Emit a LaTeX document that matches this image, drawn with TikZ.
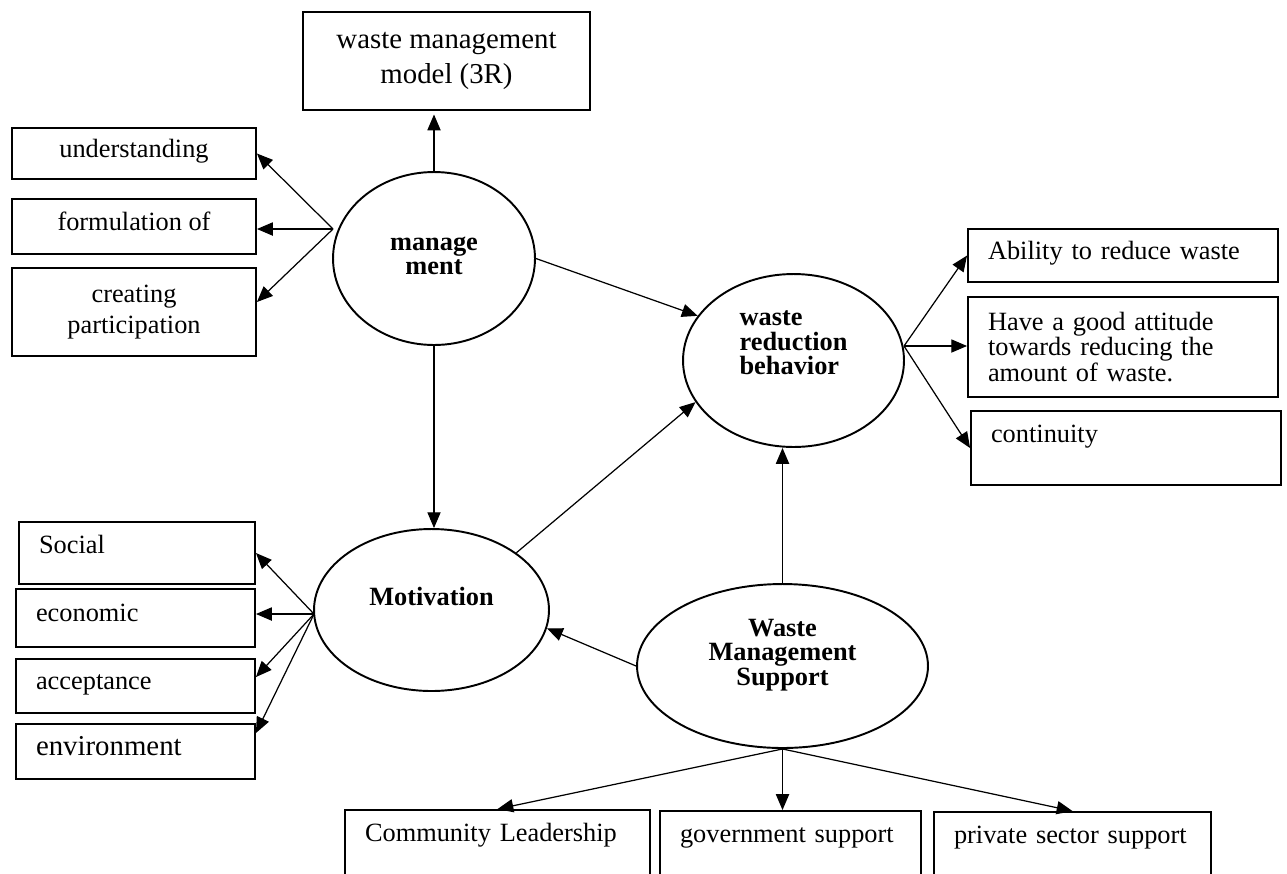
\documentclass[tikz,border=0pt]{standalone}
\usepackage{fontspec}
\setmainfont{Liberation Serif}
\usetikzlibrary{positioning, arrows.meta, shapes.geometric}
\tikzset{
    box/.style={draw, rectangle, line width=1.1pt, inner sep=0pt, align=center, font=\fontsize{15}{17.6}\selectfont},
    lbox/.style={box, align=left, inner xsep=0.4cm},
    oneline/.style={text height=0.7em, text depth=0.25em},
    topline/.style={text height=0.7em, text depth=1.3em},
    latent/.style={ellipse, draw, line width=1.1pt, inner sep=0pt},
    lattext/.style={font=\fontsize{15}{14}\selectfont\bfseries, align=center},
    arrow/.style={-{Triangle[length=9pt, width=7.5pt]}, line width=0.7pt}
}
\begin{document}
\begin{tikzpicture}[x=0.02cm, y=-0.02cm]
\useasboundingbox (0,0) rectangle (1287,873);

% management and its indicators
\node[box, minimum width=5.74cm, minimum height=1.96cm, font=\fontsize{16.4}{20.4}\selectfont] (model) at (446.5,61) {waste management\\model (3R)};
\node[box, oneline, minimum width=4.88cm, minimum height=1.02cm] (underst) at (134,153.5) {understanding};
\node[box, oneline, minimum width=4.88cm, minimum height=1.10cm] (formul) at (134,226.5) {formulation of};
\node[box, minimum width=4.88cm, minimum height=1.76cm] (creat) at (134,312) {creating\\participation};
\node[latent, minimum width=4.04cm, minimum height=3.46cm,
    label={[lattext, font=\fontsize{15}{13.6}\selectfont\bfseries, yshift=0.05cm]center:manage\\ment}] (mgmt) at (434,258.5) {};

% waste reduction behavior
\node[latent, minimum width=4.42cm, minimum height=3.46cm,
    label={[lattext, align=left, yshift=0.35cm]center:waste\\reduction\\behavior}] (wrb) at (793.5,360.5) {};
\node[lbox, oneline, text width=5.4cm, minimum height=1.06cm] (ability) at (1123,255.5) {Ability to reduce waste};
\node[lbox, text width=5.4cm, minimum height=2cm, font=\fontsize{15}{13.3}\selectfont] (attitude) at (1123,347) {Have a good attitude\\towards reducing the\\amount of waste.};
\node[lbox, topline, text width=5.4cm, minimum height=1.48cm] (cont) at (1126,448) {continuity};

% motivation
\node[latent, minimum width=4.70cm, minimum height=3.24cm,
    label={[lattext, yshift=0.28cm]center:Motivation}] (mot) at (431.5,610) {};
\node[lbox, text height=0.7em, text depth=0.7em, text width=3.92cm, minimum height=1.24cm] (social) at (137,553) {Social};
\node[lbox, oneline, text width=3.98cm, minimum height=1.16cm] (econ) at (135.5,618) {economic};
\node[lbox, oneline, text width=3.98cm, minimum height=1.08cm] (accept) at (135.5,686) {acceptance};
\node[lbox, oneline, text width=3.98cm, minimum height=1.10cm, font=\fontsize{16.4}{20}\selectfont] (env) at (135.5,751.5) {environment};

% support
\node[latent, minimum width=5.82cm, minimum height=3.28cm,
    label={[lattext, yshift=0.22cm]center:Waste\\Management\\Support}] (sup) at (782.5,666) {};
\node[lbox, topline, text width=5.3cm, minimum height=1.48cm] (comm) at (497.5,847) {Community Leadership};
\node[lbox, topline, text width=4.42cm, minimum height=1.48cm] (gov) at (790.5,848) {government support};
\node[lbox, topline, text width=4.74cm, minimum height=1.48cm] (priv) at (1072.5,849) {private sector support};

\coordinate (mfan) at (333,229);
\coordinate (mofan) at (314,614);
\coordinate (wfan) at (904,346);

% arrows
\draw[arrow, shorten >=2pt] (mgmt) -- (mgmt |- model.south);
\draw[arrow] (mfan) -- (underst.east);
\draw[arrow] (mfan) -- (mfan -| formul.east);
\draw[arrow] (mfan) -- ([yshift=0.2cm]creat.east);
\draw[arrow] (mgmt.east) -- (wrb.155);
\draw[arrow] (mgmt) -- (mgmt |- mot.north);
\draw[arrow] (mot.34) -- (wrb.203);
\draw[arrow] (sup) -- (sup |- wrb.south);
\draw[arrow] (sup.west) -- (mot.351);
\draw[arrow] (mofan) -- (social.east);
\draw[arrow] (mofan) -- (mofan -| econ.east);
\draw[arrow] (mofan) -- ([yshift=0.18cm]accept.east);
\draw[arrow] (mofan) -- ([yshift=0.37cm]env.east);
\draw[arrow] (wfan) -- (ability.west);
\draw[arrow] (wfan) -- (wfan -| attitude.west);
\draw[arrow] (wfan) -- (cont.west);
\draw[arrow] (sup.south) -- (comm.north);
\draw[arrow] (sup.south) -- (sup.south |- gov.north);
\draw[arrow] (sup.south) -- (priv.north);
\end{tikzpicture}
\end{document}
